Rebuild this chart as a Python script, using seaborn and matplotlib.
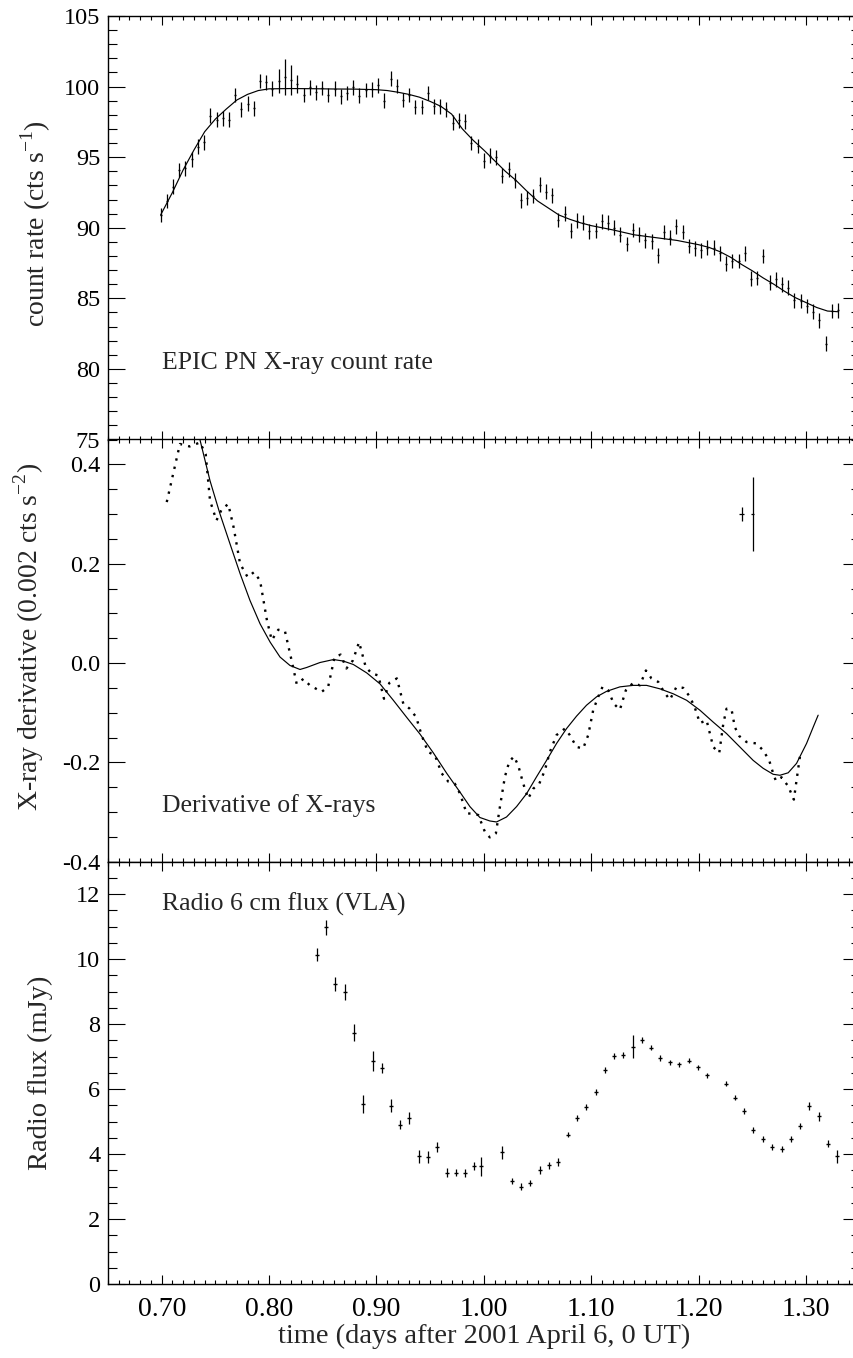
import numpy as np
import matplotlib
matplotlib.use("Agg")
import matplotlib.pyplot as plt
from matplotlib.ticker import MultipleLocator, FormatStrFormatter
import seaborn as sns

# ---------------- EPIC PN X-ray light curve (500 s bins) ----------------
XRAY_T0 = 0.699            # days, centre of first bin
XRAY_BIN = 500.0 / 86400.0  # bin width in days
xray_rate = [90.9, 91.9, 92.9, 94.1, 94.2, 94.85, 95.75, 96.05, 97.95, 97.65,
             97.75, 97.65, 99.4, 98.4, 98.8, 98.45, 100.4, 100.3, 99.85, 100.4,
             100.65, 100.45, 100.2, 99.4, 99.95, 99.6, 99.9, 99.4, 99.85, 99.3,
             99.55, 99.95, 99.35, 99.75, 99.8, 100.1, 99.0, 100.55, 100.05, 99.05,
             99.4, 98.55, 98.55, 99.55, 98.6, 98.6, 98.4, 97.45, 97.6, 97.55,
             96.0, 95.8, 94.75, 95.1, 95.0, 93.7, 94.15, 93.35, 91.95, 92.1,
             92.25, 93.05, 92.55, 92.3, 90.55, 91.0, 89.8, 90.5, 90.35, 89.75,
             89.8, 90.45, 90.35, 90.0, 89.5, 88.85, 89.85, 89.5, 89.1, 89.05,
             88.05, 89.7, 89.3, 90.1, 89.7, 88.7, 88.55, 88.4, 88.6, 88.6,
             88.2, 87.45, 87.65, 87.65, 88.2, 86.4, 86.45, 88.0, 86.1, 86.35,
             86.0, 85.75, 84.85, 84.8, 84.45, 84.05, 83.45, 81.8, 84.1, 84.15]
xray_err = [0.52] * 19 + [0.85, 1.28, 1.07, 0.65] + [0.52] * 87
xray_time = XRAY_T0 + XRAY_BIN * np.arange(len(xray_rate))

# smooth model through the light curve
model_t = [0.699, 0.71, 0.72, 0.73, 0.74, 0.75, 0.76, 0.77, 0.78, 0.79,
           0.80, 0.82, 0.84, 0.86, 0.88, 0.90, 0.91, 0.92, 0.93, 0.94,
           0.95, 0.96, 0.97, 0.98, 0.99, 1.00, 1.01, 1.02, 1.03, 1.04,
           1.05, 1.06, 1.07, 1.08, 1.09, 1.10, 1.12, 1.14, 1.16, 1.18,
           1.20, 1.21, 1.22, 1.23, 1.24, 1.25, 1.26, 1.27, 1.28, 1.29,
           1.30, 1.31, 1.32, 1.33]
model_rate = [90.9, 92.5, 94.1, 95.5, 96.8, 97.7, 98.4, 99.05, 99.45, 99.72,
              99.84, 99.86, 99.85, 99.83, 99.82, 99.78, 99.72, 99.6, 99.45, 99.25,
              98.95, 98.6, 98.05, 97.0, 96.2, 95.5, 94.75, 94.0, 93.35, 92.6,
              91.9, 91.4, 90.9, 90.6, 90.35, 90.15, 89.85, 89.5, 89.3, 89.1,
              88.8, 88.6, 88.3, 87.9, 87.4, 86.95, 86.45, 86.0, 85.5, 85.05,
              84.7, 84.35, 84.1, 84.05]

# ---------------- derivative of the X-ray light curve ----------------
deriv_t = [0.7047, 0.717, 0.726, 0.7357, 0.741, 0.745, 0.751, 0.756, 0.762, 0.767,
           0.773, 0.780, 0.786, 0.7916, 0.798, 0.8025, 0.8086, 0.8148, 0.821, 0.8257,
           0.832, 0.838, 0.849, 0.855, 0.861, 0.8667, 0.872, 0.878, 0.8838, 0.890,
           0.8955, 0.9017, 0.907, 0.912, 0.919, 0.925, 0.931, 0.937, 0.942, 0.948,
           0.9545, 0.9607, 0.967, 0.973, 0.9778, 0.984, 0.9886, 0.9948, 1.001, 1.0056,
           1.0112, 1.015, 1.0196, 1.0236, 1.028, 1.032, 1.0367, 1.0413, 1.046, 1.0516,
           1.0568, 1.0615, 1.0677, 1.0755, 1.080, 1.0863, 1.0925, 1.0972, 1.1018, 1.1065,
           1.1105, 1.1158, 1.121, 1.1267, 1.1322, 1.139, 1.1453, 1.1509, 1.1561, 1.1624,
           1.1677, 1.1732, 1.1794, 1.1856, 1.1919, 1.1965, 1.2012, 1.2074, 1.2136, 1.2192,
           1.223, 1.226, 1.2307, 1.2337, 1.2378, 1.2446, 1.2539, 1.2601, 1.2657, 1.2694,
           1.2719, 1.2772, 1.2834, 1.2887, 1.2912, 1.2943]
deriv_v = [0.324, 0.441, 0.436, 0.444, 0.42, 0.327, 0.287, 0.31, 0.32, 0.273,
           0.20, 0.173, 0.183, 0.166, 0.086, 0.046, 0.067, 0.064, 0.005, -0.042,
           -0.032, -0.045, -0.058, -0.048, 0.012, 0.017, -0.011, 0.005, 0.042, -0.008,
           -0.021, -0.025, -0.072, -0.040, -0.031, -0.082, -0.092, -0.109, -0.145, -0.179,
           -0.186, -0.222, -0.239, -0.243, -0.263, -0.303, -0.303, -0.306, -0.340, -0.351,
           -0.343, -0.289, -0.229, -0.199, -0.188, -0.206, -0.243, -0.273, -0.253, -0.243,
           -0.216, -0.179, -0.145, -0.132, -0.145, -0.169, -0.172, -0.145, -0.095, -0.068,
           -0.048, -0.055, -0.082, -0.094, -0.055, -0.040, -0.045, -0.015, -0.031, -0.038,
           -0.058, -0.074, -0.048, -0.050, -0.068, -0.090, -0.121, -0.115, -0.169, -0.181,
           -0.122, -0.092, -0.094, -0.129, -0.147, -0.159, -0.162, -0.176, -0.196, -0.222,
           -0.237, -0.230, -0.248, -0.275, -0.236, -0.189]

# derivative of the smooth model
dmodel_t = [0.733, 0.7357, 0.745, 0.7543, 0.7636, 0.773, 0.7822, 0.7916, 0.801, 0.8102,
            0.8195, 0.8288, 0.835, 0.8474, 0.860, 0.869, 0.8785, 0.891, 0.9033, 0.9157,
            0.928, 0.9405, 0.953, 0.9654, 0.9778, 0.987, 0.9963, 1.0056, 1.0118, 1.0211,
            1.0305, 1.0398, 1.0491, 1.0584, 1.0677, 1.077, 1.0863, 1.0956, 1.105, 1.1143,
            1.1267, 1.1391, 1.1515, 1.164, 1.1764, 1.1888, 1.2012, 1.2136, 1.226, 1.2384,
            1.2508, 1.2601, 1.2694, 1.2757, 1.2834, 1.2912, 1.3005, 1.3067, 1.3113]
dmodel_v = [0.47, 0.449, 0.367, 0.300, 0.240, 0.180, 0.126, 0.079, 0.042, 0.012,
            -0.005, -0.013, -0.009, 0.001, 0.007, 0.004, -0.003, -0.020, -0.042, -0.075,
            -0.109, -0.143, -0.181, -0.222, -0.260, -0.289, -0.311, -0.318, -0.320, -0.310,
            -0.289, -0.263, -0.229, -0.196, -0.162, -0.132, -0.107, -0.085, -0.068, -0.057,
            -0.048, -0.045, -0.045, -0.052, -0.062, -0.075, -0.095, -0.119, -0.142, -0.169,
            -0.196, -0.212, -0.224, -0.226, -0.221, -0.202, -0.162, -0.129, -0.105]

# representative error bars
errpt_t = [1.2400, 1.2502]
errpt_v = [0.30, 0.30]
errpt_verr = [0.015, 0.075]
errpt_terr = [0.0022, 0.0018]

# ---------------- VLA 6 cm radio flux ----------------
radio_t = [0.8446, 0.8530, 0.8617, 0.8704, 0.8790, 0.8878, 0.8965, 0.9048, 0.9135, 0.9220,
           0.9306, 0.9393, 0.9480, 0.9567, 0.9654, 0.9740, 0.9827, 0.9912, 0.9973, 1.0171,
           1.0258, 1.0345, 1.0432, 1.0519, 1.0606, 1.0693, 1.0780, 1.0866, 1.0953, 1.1040,
           1.1127, 1.1214, 1.1298, 1.1385, 1.1472, 1.1559, 1.1645, 1.1732, 1.1819, 1.1906,
           1.1993, 1.2080, 1.2251, 1.2338, 1.2424, 1.2511, 1.2598, 1.2685, 1.2772, 1.2859,
           1.2946, 1.3030, 1.3117, 1.3204, 1.3291]
radio_flux = [10.14, 10.98, 9.23, 9.00, 7.74, 5.55, 6.87, 6.65, 5.48, 4.91,
              5.12, 3.93, 3.90, 4.21, 3.43, 3.43, 3.41, 3.64, 3.62, 4.06,
              3.18, 3.00, 3.11, 3.50, 3.65, 3.75, 4.59, 5.11, 5.44, 5.90,
              6.59, 7.01, 7.05, 7.31, 7.51, 7.28, 6.96, 6.82, 6.76, 6.87,
              6.67, 6.42, 6.16, 5.74, 5.32, 4.75, 4.46, 4.23, 4.15, 4.46,
              4.87, 5.49, 5.16, 4.32, 3.93]
radio_err = [0.19, 0.23, 0.22, 0.25, 0.27, 0.28, 0.31, 0.14, 0.20, 0.13,
             0.18, 0.20, 0.18, 0.15, 0.13, 0.12, 0.12, 0.13, 0.29, 0.20,
             0.09, 0.10, 0.10, 0.12, 0.12, 0.12, 0.08, 0.09, 0.09, 0.09,
             0.09, 0.09, 0.09, 0.36, 0.09, 0.09, 0.08, 0.08, 0.08, 0.08,
             0.08, 0.08, 0.08, 0.09, 0.09, 0.09, 0.09, 0.09, 0.09, 0.09,
             0.10, 0.12, 0.14, 0.10, 0.20]

# ---------------- style ----------------
sns.set_theme(style="ticks")
plt.rcParams["font.family"] = ["Liberation Serif", "DejaVu Serif"]
plt.rcParams["mathtext.fontset"] = "custom"
plt.rcParams["mathtext.rm"] = "Liberation Serif"
plt.rcParams["axes.unicode_minus"] = False
plt.rcParams["axes.linewidth"] = 1.0
plt.rcParams["axes.edgecolor"] = "black"

W, H = 854, 1358
fig = plt.figure(figsize=(W / 100, H / 100), dpi=100)
fig.patch.set_facecolor("white")

left = 108 / W
width = (859.7 - 108) / W
def panel(top_px, bot_px):
    return fig.add_axes([left, 1 - bot_px / H, width, (bot_px - top_px) / H])

ax1 = panel(16, 439.5)
ax2 = panel(439.5, 861.7)
ax3 = panel(861.7, 1284)

LW = 0.85
XLIM = (0.65, 1.35)

for ax in (ax1, ax2, ax3):
    ax.set_facecolor("white")
    ax.set_xlim(*XLIM)
    ax.xaxis.set_major_locator(MultipleLocator(0.1))
    ax.xaxis.set_minor_locator(MultipleLocator(0.01))
    ax.tick_params(axis="both", which="both", direction="in", top=True, right=True,
                   colors="black", width=0.8)
    ax.tick_params(axis="x", which="major", length=6.5)
    ax.tick_params(axis="x", which="minor", length=3.2)
    ax.tick_params(axis="y", which="major", length=12, labelsize=17.5, pad=5.5)
    ax.tick_params(axis="y", which="minor", length=6.2)
    for s in ax.spines.values():
        s.set_visible(True)
        s.set_linewidth(1.0)
        s.set_color("black")

for ax in (ax1, ax2):
    ax.tick_params(axis="x", labelbottom=False)
ax3.tick_params(axis="x", labelsize=20, pad=9)
ax3.xaxis.set_major_formatter(FormatStrFormatter("%.2f"))

# --- top panel: X-ray count rate ---
ax1.errorbar(xray_time, xray_rate, yerr=xray_err, fmt="_", ms=1.6, mew=1.0,
             color="black", ecolor="black", elinewidth=0.9, capsize=0)
sns.lineplot(x=model_t, y=model_rate, ax=ax1, color="black", lw=LW, sort=False)
ax1.set_ylim(75, 105)
ax1.yaxis.set_major_locator(MultipleLocator(5))
ax1.yaxis.set_minor_locator(MultipleLocator(1))
ax1.yaxis.set_major_formatter(FormatStrFormatter("%d"))
ax1.set_ylabel(r"count rate (cts s$^{\mathregular{-1}}$)", fontsize=20)
ax1.yaxis.set_label_coords(-0.073, 0.51)
ax1.text(0.70, 80, "EPIC PN X-ray count rate", fontsize=18.5, ha="left", va="baseline")

# --- middle panel: derivative ---
sns.lineplot(x=deriv_t, y=deriv_v, ax=ax2, color="black", lw=1.7, sort=False,
             linestyle=(0, (1, 2.6)))
sns.lineplot(x=dmodel_t, y=dmodel_v, ax=ax2, color="black", lw=LW, sort=False)
ax2.errorbar(errpt_t, errpt_v, yerr=errpt_verr, xerr=errpt_terr, fmt="none",
             ecolor="black", elinewidth=0.9, capsize=0)
ax2.set_ylim(-0.4, 0.45)
ax2.yaxis.set_major_locator(MultipleLocator(0.2))
ax2.yaxis.set_minor_locator(MultipleLocator(0.05))
ax2.yaxis.set_major_formatter(FormatStrFormatter("%.1f"))
ax2.set_ylabel(r"X-ray derivative (0.002 cts s$^{\mathregular{-2}}$)", fontsize=20)
ax2.yaxis.set_label_coords(-0.083, 0.532)
ax2.text(0.70, -0.30, "Derivative of X-rays", fontsize=18.5, ha="left", va="baseline")

# --- bottom panel: radio flux ---
ax3.errorbar(radio_t, radio_flux, yerr=radio_err, fmt="_", ms=3.0, mew=1.0,
             color="black", ecolor="black", elinewidth=0.9, capsize=0)
ax3.set_ylim(0, 13)
ax3.yaxis.set_major_locator(MultipleLocator(2))
ax3.yaxis.set_minor_locator(MultipleLocator(0.5))
ax3.yaxis.set_major_formatter(FormatStrFormatter("%d"))
ax3.set_ylabel("Radio flux (mJy)", fontsize=20.5)
ax3.yaxis.set_label_coords(-0.073, 0.5)
ax3.set_xlabel("time (days after 2001 April 6, 0 UT)", fontsize=20.5, labelpad=2)
ax3.text(0.70, 11.5, "Radio 6 cm flux (VLA)", fontsize=18.5, ha="left", va="baseline")

for ax in (ax1, ax2, ax3):
    ax.set_xlim(*XLIM)

fig.savefig("out.png", dpi=100, facecolor="white")
